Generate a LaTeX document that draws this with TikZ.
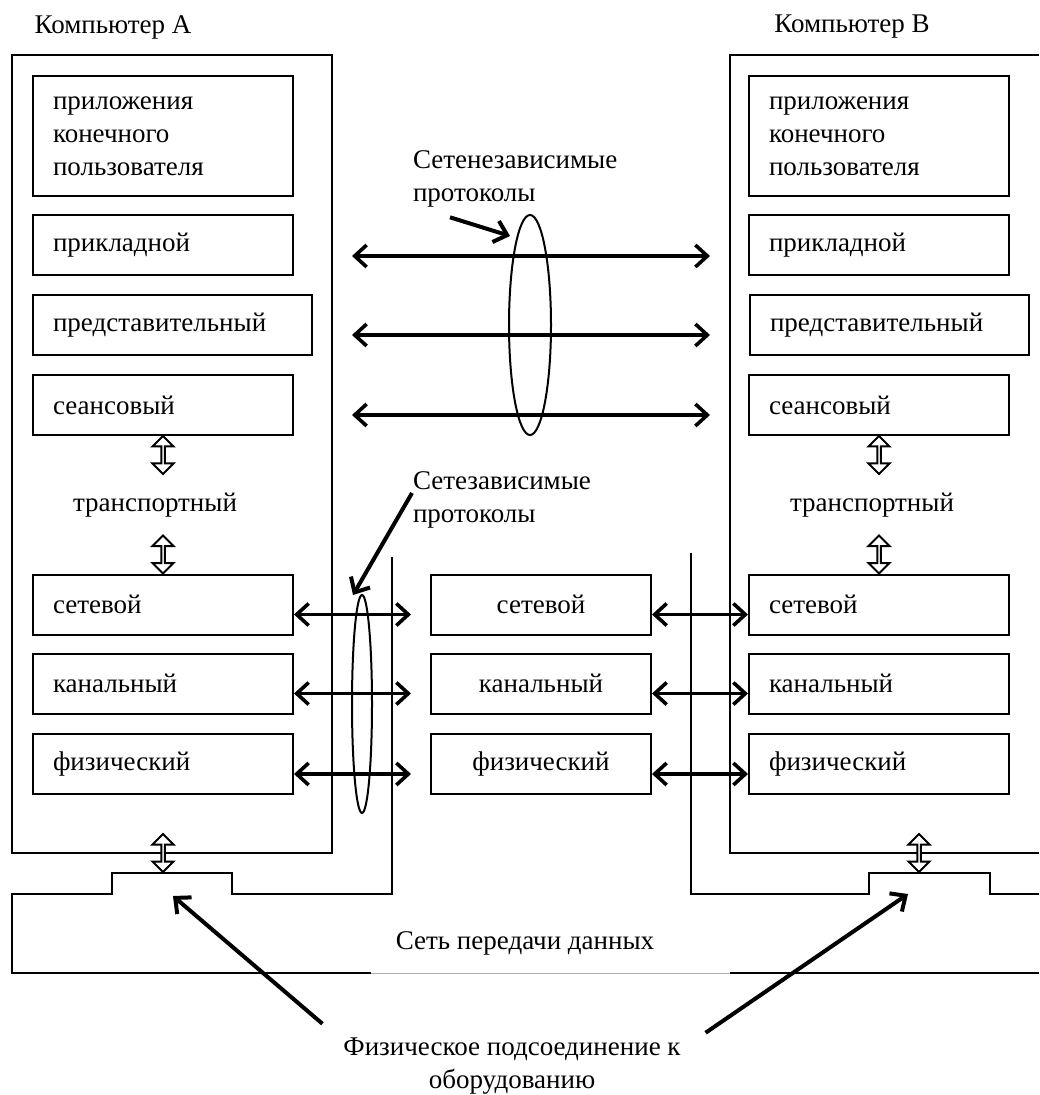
\documentclass[tikz,border=0pt]{standalone}
\usepackage{fontspec}
\setmainfont{Liberation Serif}
\usetikzlibrary{arrows.meta, positioning, shapes.geometric, shapes.arrows}

\tikzset{
  layer/.style={draw, line width=1pt, minimum height=30pt, text width=110pt,
    inner xsep=10pt, inner ysep=0pt, align=left},
  midlayer/.style={layer, text width=90pt, align=center},
  updown/.style={double arrow, draw, line width=1pt, fill=white, rotate=90,
    minimum height=19pt, minimum width=10.5pt, double arrow head extend=2.5pt,
    double arrow head indent=0pt, inner sep=0pt},
  lens/.style={draw, ellipse, line width=1pt, inner sep=0pt},
  caption/.style={inner sep=0pt},
  link/.style={{Straight Barb[length=6pt,width=11pt]}-{Straight Barb[length=6pt,width=11pt]}, line width=1.8pt},
  pointer/.style={-{Straight Barb[length=6pt,width=11pt]}, line width=2pt}
}

\begin{document}
\begin{tikzpicture}[x=0.5pt, y=-0.5pt, line width=1pt,
  every node/.style={font=\fontsize{13.5}{16.5}\selectfont}]
  \useasboundingbox (0,0) rectangle (1039,1095);

  % computers
  \node (titleA) at (113,27) {Компьютер А};
  \node (titleB) at (852,27) {Компьютер В};
  \draw (12,55) rectangle (332,853);
  \draw (1039,55) -- (730,55) -- (730,853) -- (1039,853);

  % data network outline
  \draw (392,557) -- (392,894) -- (232,894) -- (232,873) -- (112,873) -- (112,894)
    -- (12,894) -- (12,973) -- (371,973);
  \draw[gray!60, line width=0.4pt] (371,973) -- (730,973);
  \draw (730,973) -- (1039,973);
  \draw (691,553) -- (691,894) -- (869,894) -- (869,873) -- (990,873) -- (990,894)
    -- (1039,894);
  \node (netname) at (525,943) {Сеть передачи данных};

  % layers of A
  \node[layer, minimum height=60pt] (userA) at (163,136) {приложения\\конечного\\пользователя};
  \node[layer] (applA) at (163,245) {прикладной};
  \node[layer, text width=119.5pt] (presA) at (172.5,325) {представительный};
  \node[layer] (sessA) at (163,405) {сеансовый};
  \node (transA) at (155,505) {транспортный};
  \node[layer] (netA) at (163,604.5) {сетевой};
  \node[layer] (linkA) at (163,683.5) {канальный};
  \node[layer] (physA) at (163,764) {физический};

  % layers of B
  \node[layer, minimum height=60pt] (userB) at (879,136) {приложения\\конечного\\пользователя};
  \node[layer] (applB) at (879,245) {прикладной};
  \node[layer, text width=119.5pt] (presB) at (889.5,325) {представительный};
  \node[layer] (sessB) at (879,405) {сеансовый};
  \node (transB) at (872,505) {транспортный};
  \node[layer] (netB) at (879,604.5) {сетевой};
  \node[layer] (linkB) at (879,683.5) {канальный};
  \node[layer] (physB) at (879,764) {физический};

  % intermediate node
  \node[midlayer] (netM) at (541,604.5) {сетевой};
  \node[midlayer] (linkM) at (541,683.5) {канальный};
  \node[midlayer] (physM) at (541,764) {физический};

  % hollow arrows
  \node[updown] (sa1) at ([yshift=-9.5pt]sessA.south) {};
  \node[updown] (sa2) at ([yshift=9.5pt]netA.north) {};
  \node[updown] (plugA) at (163,853) {};
  \node[updown] (sb1) at ([yshift=-9.5pt]sessB.south) {};
  \node[updown] (sb2) at ([yshift=9.5pt]netB.north) {};
  \node[updown] (plugB) at (919,853) {};

  % network independent protocols
  \foreach \y/\n in {256/1,335/2,415/3} {
    \coordinate (ul\n) at (352,\y);
    \coordinate (ur\n) at (710,\y);
    \draw[link] (ul\n) -- (ur\n);
  }
  \node[lens, minimum width=21pt, minimum height=110pt] (lensU) at (530,325) {};
  \node[caption, align=left, anchor=west] (protU) at (412,179) {Сетенезависимые\\протоколы};
  \coordinate (tipU) at (510,236);
  \draw[pointer] ([xshift=19pt,yshift=-4.5pt]protU.south west) -- (tipU);

  % network dependent protocols
  \foreach \lay in {net,link,phys} {
    \draw[link] ([yshift=-5pt]\lay A.east) -- ([xshift=-9.5pt,yshift=-5pt]\lay M.west);
    \draw[link] ([yshift=-5pt]\lay M.east) -- ([yshift=-5pt]\lay B.west);
  }
  \node[lens, minimum width=10pt, minimum height=109pt] (lensL) at (362,704) {};
  \node[caption, align=left, anchor=west] (protL) at (412,500) {Сетезависимые\\протоколы};
  \coordinate (tipL) at (353,595);
  \draw[pointer] ([yshift=3.5pt]protL.west) -- (tipL);

  % physical connection
  \node[caption, align=center] (conn) at (512,1066) {Физическое подсоединение к\\оборудованию};
  \coordinate (jackA) at (173,896);
  \coordinate (jackB) at (908,894);
  \draw[pointer] ([xshift=-10pt,yshift=6.5pt]conn.north west) -- (jackA);
  \draw[pointer] ([xshift=12pt,yshift=2pt]conn.north east) -- (jackB);
\end{tikzpicture}
\end{document}
